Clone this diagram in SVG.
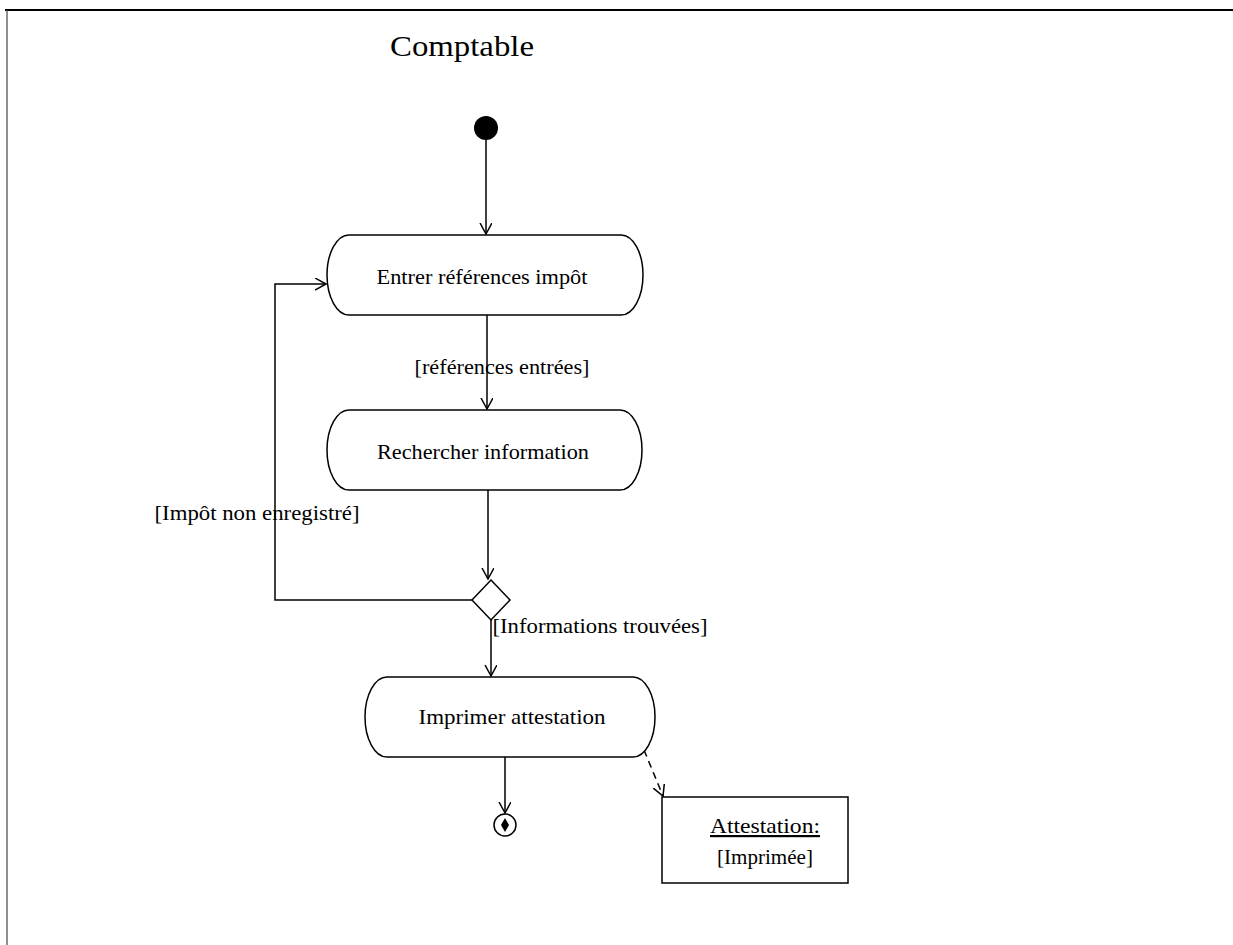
<svg xmlns="http://www.w3.org/2000/svg" width="1233" height="945" viewBox="0 0 1233 945">
<style>
.t{font-family:"Liberation Serif","Times New Roman",serif;fill:#000;}
.act{fill:#fff;stroke:#000;stroke-width:1.5;}
.ln{fill:none;stroke:#000;stroke-width:1.5;}
</style>
<defs>
<marker id="ah" markerWidth="14" markerHeight="14" refX="11" refY="6" orient="auto" markerUnits="userSpaceOnUse">
<path d="M0,0 L11,6 L0,12" fill="none" stroke="#000" stroke-width="1.5"/>
</marker>
</defs>
<rect width="1233" height="945" fill="#fff"/>
<g id="frame">
<line x1="5" y1="10" x2="1233" y2="10" stroke="#000" stroke-width="2"/>
<line x1="7" y1="10" x2="7" y2="945" stroke="#444" stroke-width="1.2"/>
<text class="t" x="462" y="56" font-size="30" text-anchor="middle" textLength="144" lengthAdjust="spacingAndGlyphs">Comptable</text>
</g>
<g id="connectors">
<line class="ln" x1="486" y1="140" x2="486" y2="234" marker-end="url(#ah)"/>
<line class="ln" x1="487" y1="315" x2="487" y2="409" marker-end="url(#ah)"/>
<line class="ln" x1="488" y1="490" x2="488" y2="579" marker-end="url(#ah)"/>
<polyline class="ln" points="472,600 275,600 275,284 326,284" marker-end="url(#ah)"/>
<line class="ln" x1="491" y1="620" x2="491" y2="676" marker-end="url(#ah)"/>
<line class="ln" x1="505" y1="757" x2="505" y2="813" marker-end="url(#ah)"/>
<line class="ln" x1="644" y1="750" x2="663" y2="796" stroke-dasharray="7,5" marker-end="url(#ah)"/>
<text class="t" x="502" y="374" font-size="22" text-anchor="middle" textLength="175" lengthAdjust="spacingAndGlyphs">[références entrées]</text>
<text class="t" x="257" y="520" font-size="22" text-anchor="middle" textLength="205" lengthAdjust="spacingAndGlyphs">[Impôt non enregistré]</text>
<text class="t" x="600" y="633" font-size="22" text-anchor="middle" textLength="215" lengthAdjust="spacingAndGlyphs">[Informations trouvées]</text>
</g>
<g id="start">
<circle cx="486" cy="128" r="12" fill="#000"/>
</g>
<g id="entrer">
<path class="act" d="M349,235 H621 A22,40 0 0 1 621,315 H349 A22,40 0 0 1 349,235 Z"/>
<text class="t" x="482" y="284" font-size="22" text-anchor="middle" textLength="211" lengthAdjust="spacingAndGlyphs">Entrer références impôt</text>
</g>
<g id="rechercher">
<path class="act" d="M349,410 H620 A22,40 0 0 1 620,490 H349 A22,40 0 0 1 349,410 Z"/>
<text class="t" x="483" y="459" font-size="22" text-anchor="middle" textLength="212" lengthAdjust="spacingAndGlyphs">Rechercher information</text>
</g>
<g id="decision">
<polygon points="491,580 510,600 491,620 472,600" fill="#fff" stroke="#000" stroke-width="1.5"/>
</g>
<g id="imprimer">
<path class="act" d="M387,677 H633 A22,40 0 0 1 633,757 H387 A22,40 0 0 1 387,677 Z"/>
<text class="t" x="512" y="724" font-size="22" text-anchor="middle" textLength="187" lengthAdjust="spacingAndGlyphs">Imprimer attestation</text>
</g>
<g id="end">
<circle cx="505" cy="825" r="11" fill="#fff" stroke="#000" stroke-width="1.5"/>
<path d="M505,818 L509,825 L505,832 L501,825 Z" fill="#000"/>
</g>
<g id="attestation">
<rect x="662" y="797" width="186" height="86" fill="#fff" stroke="#000" stroke-width="1.5"/>
<text class="t" x="765" y="833" font-size="22" text-anchor="middle" textLength="110" lengthAdjust="spacingAndGlyphs" text-decoration="underline">Attestation:</text>
<text class="t" x="765" y="864" font-size="22" text-anchor="middle" textLength="96" lengthAdjust="spacingAndGlyphs">[Imprimée]</text>
</g>
</svg>
